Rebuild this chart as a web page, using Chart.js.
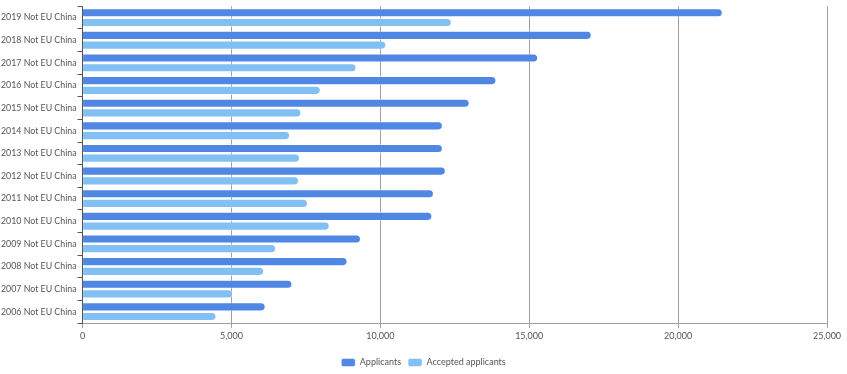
<!DOCTYPE html>
<html>
<head>
<meta charset="utf-8">
<script src="https://cdn.jsdelivr.net/npm/chart.js@4/dist/chart.umd.min.js"></script>
<style>
  html, body { margin: 0; padding: 0; background: #fff; }
  #wrap { width: 847px; height: 374px; position: relative; }
</style>
</head>
<body>
<div id="wrap"><canvas id="chart"></canvas></div>
<script>
// data
const categories = [
  '2019 Not EU China', '2018 Not EU China', '2017 Not EU China', '2016 Not EU China',
  '2015 Not EU China', '2014 Not EU China', '2013 Not EU China', '2012 Not EU China',
  '2011 Not EU China', '2010 Not EU China', '2009 Not EU China', '2008 Not EU China',
  '2007 Not EU China', '2006 Not EU China'
];
const applicants = [21500, 17100, 15300, 13900, 13000, 12100, 12100, 12200, 11800, 11750, 9350, 8900, 7050, 6150];
const accepted = [12400, 10200, 9200, 8000, 7350, 6970, 7300, 7270, 7570, 8300, 6500, 6100, 5050, 4500];
const seriesNames = ['Applicants', 'Accepted applicants'];
const xTicks = [0, 5000, 10000, 15000, 20000, 25000];

const FONT = "Lato, sans-serif";

// legend is centred on the whole canvas, not the padded area
const centerLegend = {
  id: 'centerLegend',
  afterLayout(chart) {
    const lg = chart.legend;
    const shift = (chart.width - (lg.left + lg.right)) / 2;
    lg.left += shift;
    lg.right += shift;
  }
};

new Chart(document.getElementById('chart').getContext('2d'), {
  type: 'bar',
  data: {
    labels: categories,
    datasets: [
      {
        label: seriesNames[0],
        data: applicants,
        backgroundColor: '#5087e5',
        borderColor: 'rgba(255,255,255,0.5)',
        borderWidth: 1,
        borderRadius: 5,
        borderSkipped: 'start'
      },
      {
        label: seriesNames[1],
        data: accepted,
        backgroundColor: '#82c0f3',
        borderColor: 'rgba(255,255,255,0.5)',
        borderWidth: 1,
        borderRadius: 5,
        borderSkipped: 'start'
      }
    ]
  },
  plugins: [centerLegend],
  options: {
    indexAxis: 'y',
    responsive: true,
    maintainAspectRatio: false,
    animation: false,
    categoryPercentage: 0.86,
    barPercentage: 0.94,
    layout: { padding: { left: 0, right: 20, top: 2, bottom: -3 } },
    plugins: {
      legend: {
        position: 'bottom',
        // empty title only adds height above the items
        title: { display: true, text: ' ', font: { size: 1 }, padding: { top: 0, bottom: 5 } },
        labels: {
          boxWidth: 14,
          boxHeight: 8,
          padding: 7,
          color: '#555',
          font: { family: FONT, size: 9 },
          useBorderRadius: true,
          borderRadius: 2
        }
      },
      tooltip: { enabled: false }
    },
    scales: {
      x: {
        min: 0,
        max: 25000,
        afterBuildTicks: axis => { axis.ticks = xTicks.map(v => ({ value: v })); },
        grid: { color: '#a0a0a0', tickLength: 5, lineWidth: 1 },
        border: { color: '#a0a0a0' },
        ticks: {
          color: '#555',
          font: { family: FONT, size: 9 },
          padding: 3,
          callback: v => v.toLocaleString('en-US')
        }
      },
      y: {
        grid: { drawOnChartArea: false, tickLength: 5, offset: true, color: '#555' },
        border: { color: '#555' },
        ticks: {
          color: '#555',
          font: { family: FONT, size: 8.8 },
          padding: 1
        }
      }
    }
  }
});
</script>
</body>
</html>
